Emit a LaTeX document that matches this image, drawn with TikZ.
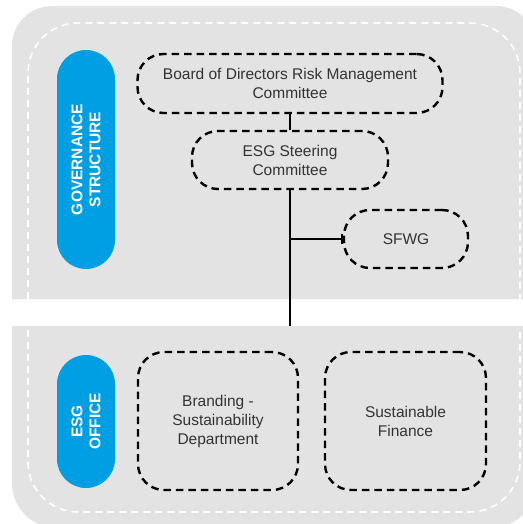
\documentclass[tikz,border=0pt]{standalone}
\usepackage{fontspec}
\setmainfont{Liberation Sans}
\usetikzlibrary{arrows.meta}

\definecolor{panelgray}{RGB}{227,227,227}
\definecolor{esgblue}{RGB}{0,158,226}
\definecolor{textgray}{RGB}{51,51,51}

\begin{document}
\begin{tikzpicture}[x=1pt,y=-1pt,
	unit/.style={draw=black,line width=2.4pt,dash pattern=on 7.5pt off 5pt,
		rounded corners=26pt,align=center,text=textgray,inner sep=0pt,
		font=\fontsize{15.5}{19}\selectfont},
	pill/.style={fill=esgblue,rounded corners=29pt,rotate=90,
		minimum height=58pt,inner sep=0pt,text=white,align=center,
		font=\bfseries\fontsize{15.5}{18}\selectfont},
	guide/.style={white,line width=1.6pt,dash pattern=on 7pt off 5pt},
	link/.style={line width=2.6pt}]

\useasboundingbox (0,0) rectangle (522,524);

\def\rad{40}
\def\grad{50}

%
% Panels
%
\begin{scope}
	\fill[panelgray,rounded corners=\rad] (12,299) -- (12,6) -- (536,6) -- (536,299);
	\draw[guide,rounded corners=\grad] (28,299) -- (28,23) -- (520,23) -- (520,299);
	\fill[panelgray,rounded corners=45] (12,326) -- (12,528) -- (536,528) -- (536,326);
	\draw[guide,rounded corners=\grad] (28,330) -- (28,512) -- (520,512) -- (520,330);
\end{scope}

%
% Governance structure
%
\begin{scope}
	\node[pill,minimum width=219pt] (gov) at (86,159.5) {GOVERNANCE\\STRUCTURE};
	\node[unit,minimum width=305pt,minimum height=59pt] (bod) at (290,83.5)
		{Board of Directors Risk Management\\Committee};
	\node[unit,minimum width=196pt,minimum height=58pt] (esg) at (290,160)
		{ESG Steering\\Committee};
	\node[unit,minimum width=124pt,minimum height=58pt] (sfwg) at (406,239) {SFWG};
\end{scope}

%
% ESG office
%
\begin{scope}
	\node[pill,minimum width=133pt] (office) at (86,421.5) {ESG\\OFFICE};
	\node[unit,minimum width=160pt,minimum height=138pt] (brand) at (218,421)
		{Branding -\\Sustainability\\Department};
	\node[unit,minimum width=161pt,minimum height=138pt] (fin) at (405.5,421)
		{Sustainable\\Finance};
\end{scope}

%
% Links
%
\coordinate (drop) at (290,326);
\coordinate (branch) at (esg.south |- sfwg.west);
\draw[link] (bod) -- (esg);
\draw[link] (esg) -- (drop);
\draw[link,-{Bar[width=10pt,line width=2.2pt]}] (branch) -- (sfwg.west);

\end{tikzpicture}
\end{document}
